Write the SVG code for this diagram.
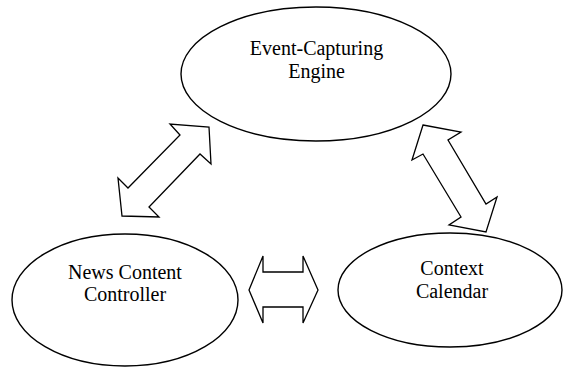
<svg xmlns="http://www.w3.org/2000/svg" width="563" height="368" viewBox="0 0 563 368">
<style>
.node{fill:#fff;stroke:#000;stroke-width:1.4}
.lbl{font-family:"Liberation Serif","Times New Roman",serif;font-size:20px;fill:#000;text-anchor:middle}
.arr{fill:#fff;stroke:#000;stroke-width:1.3;stroke-linejoin:miter}
</style>
<rect width="563" height="368" fill="#fff"/>
<g id="connectors">
<polygon id="arrow-news-event" class="arr" points="209,127 211,164 200,154 149,207 159,217 122,216 118,178 128,188 180,135 170,124"/>
<polygon id="arrow-event-context" class="arr" points="423,125 461,132 448,140 486,204 497,197 486,232 449,225 461,217 423,154 412,160"/>
<polygon id="arrow-news-context" class="arr" points="249,290 263,256 263,272 303,272 303,256 318,290 303,323 303,307 263,307 263,323"/>
</g>
<g id="event-capturing-engine">
<ellipse class="node" cx="316" cy="74" rx="135" ry="67"/>
<text class="lbl" x="316.5" y="55">Event-Capturing</text>
<text class="lbl" x="316.5" y="78">Engine</text>
</g>
<g id="news-content-controller">
<ellipse class="node" cx="125" cy="300" rx="113" ry="66"/>
<text class="lbl" x="125" y="278.5">News Content</text>
<text class="lbl" x="125" y="301">Controller</text>
</g>
<g id="context-calendar">
<ellipse class="node" cx="450" cy="290" rx="112" ry="57"/>
<text class="lbl" x="452" y="275">Context</text>
<text class="lbl" x="452" y="297.5">Calendar</text>
</g>
</svg>
